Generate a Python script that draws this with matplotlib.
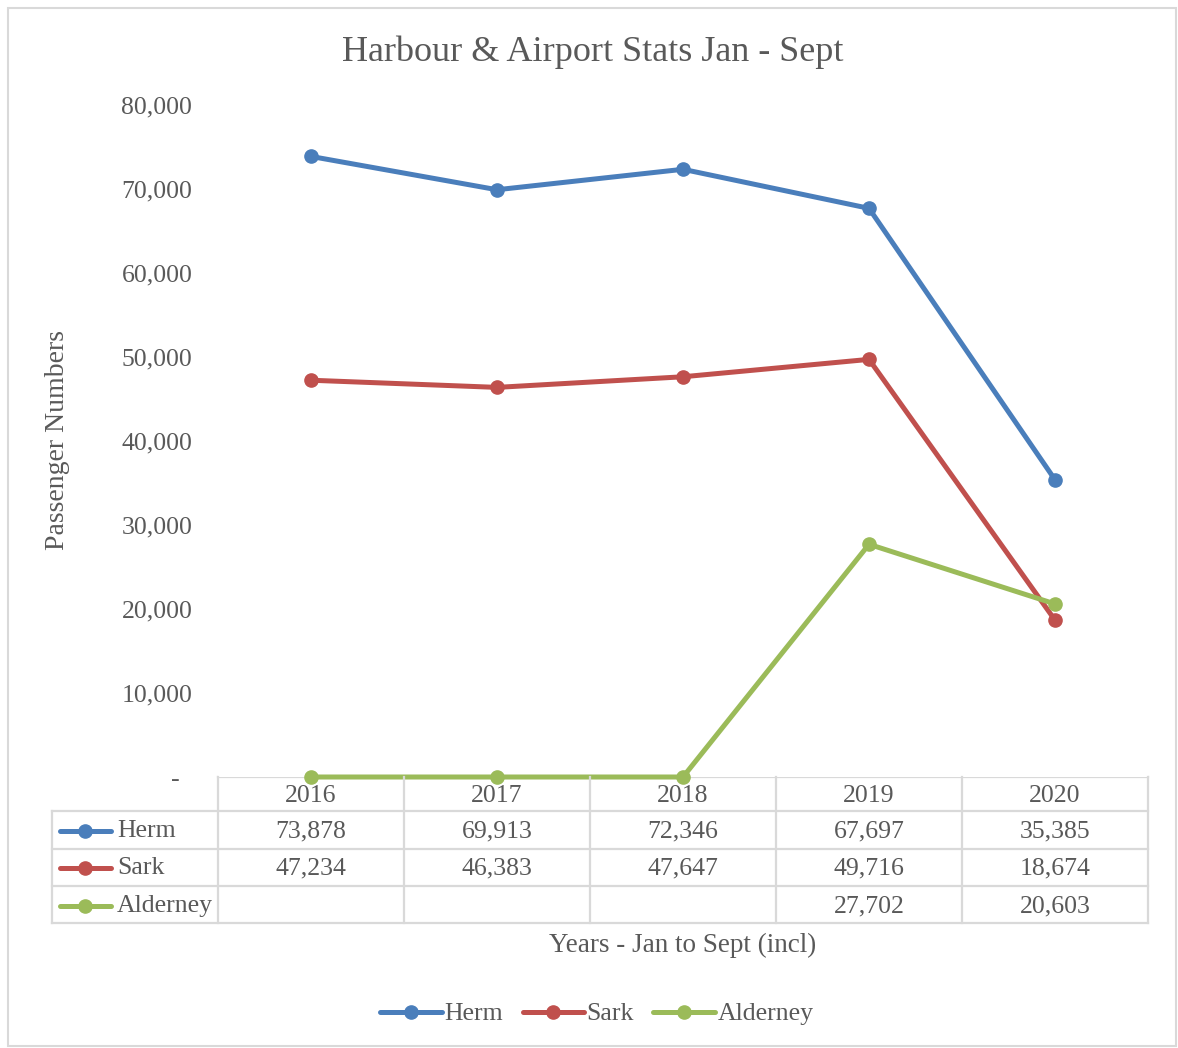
import numpy as np
import matplotlib.pyplot as plt
import matplotlib.transforms as mtransforms
from matplotlib.lines import Line2D
from matplotlib.patches import Rectangle

years = ["2016", "2017", "2018", "2019", "2020"]
herm = [73878, 69913, 72346, 67697, 35385]
sark = [47234, 46383, 47647, 49716, 18674]
alderney = [0, 0, 0, 27702, 20603]
alderney_table = ["", "", "", "27,702", "20,603"]
yticks = [0, 10000, 20000, 30000, 40000, 50000, 60000, 70000, 80000]

names = ["Herm", "Sark", "Alderney"]
colors = ["#4A7EBB", "#C0504D", "#9BBB59"]
grey = "#595959"
linec = "#D9D9D9"

plt.rcParams['font.family'] = ['Liberation Serif', 'DejaVu Serif']

W, H = 1178, 1048
fig = plt.figure(figsize=(W / 100, H / 100), dpi=100)

def fx(x):
    return x / W

def fy(y):
    return 1 - y / H

ax = fig.add_axes([fx(218), fy(777), fx(1148) - fx(218), fy(105) - fy(777)])
x = np.arange(len(years))
series = [herm, sark, alderney]
for vals, name, c in zip(series, names, colors):
    ax.plot(x, vals, color=c, lw=3.6, marker='o', ms=9.5, label=name,
            solid_capstyle='round', clip_on=False, zorder=3)

ax.set_xlim(-0.5, len(years) - 0.5)
ax.set_ylim(0, 80000)
ax.set_yticks(yticks)
ax.set_yticklabels(["-  "] + ["{:,}".format(v) for v in yticks[1:]])
ax.set_xticks([])
ax.tick_params(axis='y', length=0, pad=18.5, labelsize=18.5, labelcolor=grey)
for s in ax.spines.values():
    s.set_visible(False)

fig.text(fx(593), fy(52), "Harbour & Airport Stats Jan - Sept", ha='center', va='center',
         fontsize=26, color=grey)
fig.text(fx(58), fy(440), "Passenger Numbers", rotation=90, ha='center', va='center',
         fontsize=20, color=grey)
fig.text(fx(683), fy(945), "Years - Jan to Sept (incl)", ha='center', va='center',
         fontsize=19.5, color=grey)

# data table
tr = mtransforms.blended_transform_factory(ax.transData, fig.transFigure)
col_edges = [218, 404, 590, 776, 962, 1148]
row_edges = [777, 811, 849, 886, 923]
for xe in col_edges:
    fig.add_artist(Line2D([fx(xe), fx(xe)], [fy(777), fy(923)], color=linec, lw=1.6))
fig.add_artist(Line2D([fx(52), fx(52)], [fy(811), fy(923)], color=linec, lw=1.6))
fig.add_artist(Line2D([fx(218), fx(1148)], [fy(777), fy(777)], color=linec, lw=1.6, zorder=0))
for ye in row_edges[1:]:
    fig.add_artist(Line2D([fx(52), fx(1148)], [fy(ye), fy(ye)], color=linec, lw=1.6))

for i, yr in enumerate(years):
    fig.text(i, fy(796), yr, transform=tr, ha='center', va='center', fontsize=18.5, color=grey)

row_text = [["{:,}".format(v) for v in herm], ["{:,}".format(v) for v in sark], alderney_table]
row_y = [831, 868, 906]
for r, (name, c) in enumerate(zip(names, colors)):
    yy = fy(row_y[r])
    fig.add_artist(Line2D([fx(60), fx(111)], [yy, yy], color=c, lw=3.6, solid_capstyle='round'))
    fig.add_artist(Line2D([fx(85)], [yy], color=c, marker='o', ms=9.5))
    fig.text(fx(117), yy, name, ha='left', va='center', fontsize=18.5, color=grey)
    for i, t in enumerate(row_text[r]):
        fig.text(i, yy, t, transform=tr, ha='center', va='center', fontsize=18.5, color=grey)

handles = [Line2D([], [], color=c, lw=3.6, marker='o', ms=9.5, solid_capstyle='round')
           for c in colors]
fig.legend(handles, names, loc='center', bbox_to_anchor=(fx(597), fy(1014)), ncol=3,
           frameon=False, fontsize=18.5, labelcolor=grey, handlelength=2.4,
           handletextpad=0.1, columnspacing=0.75)

fig.add_artist(Rectangle((fx(8), fy(1046)), fx(1168), fy(8) - fy(1046), fill=False,
                         edgecolor=linec, lw=1.5))

fig.savefig("out.png", dpi=100)
